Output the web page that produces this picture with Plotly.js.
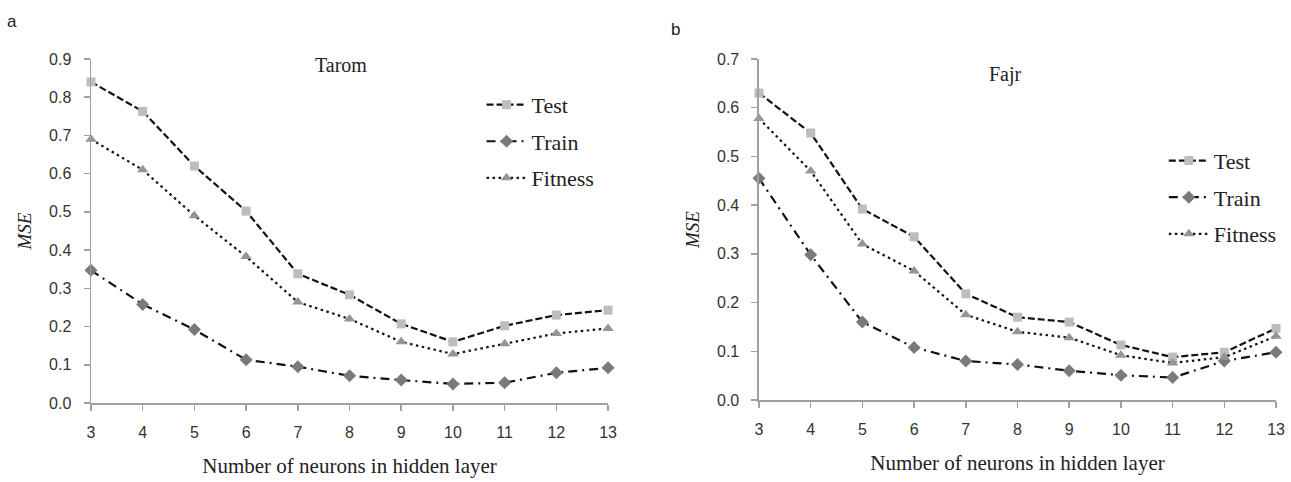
<!DOCTYPE html>
<html>
<head>
<meta charset="utf-8">
<script src="https://cdn.plot.ly/plotly-3.0.1.min.js"></script>
<style>html,body{margin:0;padding:0;background:#fff;}#chart{width:1291px;height:482px;}</style>
</head>
<body>
<div id="chart"></div>
<script>
const neurons = [3, 4, 5, 6, 7, 8, 9, 10, 11, 12, 13];
const taromTest    = [0.840, 0.763, 0.620, 0.502, 0.338, 0.283, 0.207, 0.160, 0.202, 0.230, 0.243];
const taromTrain   = [0.347, 0.258, 0.192, 0.113, 0.095, 0.071, 0.060, 0.050, 0.053, 0.079, 0.092];
const taromFitness = [0.690, 0.610, 0.490, 0.383, 0.264, 0.220, 0.160, 0.128, 0.155, 0.182, 0.195];
const fajrTest     = [0.630, 0.548, 0.392, 0.335, 0.218, 0.170, 0.160, 0.113, 0.088, 0.098, 0.147];
const fajrTrain    = [0.455, 0.298, 0.160, 0.108, 0.080, 0.073, 0.060, 0.051, 0.046, 0.080, 0.098];
const fajrFitness  = [0.578, 0.470, 0.320, 0.265, 0.175, 0.140, 0.128, 0.092, 0.076, 0.088, 0.131];
const seriesNames = ['Test', 'Train', 'Fitness'];
const panelTitles = ['Tarom', 'Fajr'];
const panelLetters = ['a', 'b'];
const xTitle = 'Number of neurons in hidden layer';
const yTitle = 'MSE';

const styles = [
  {dash: '7px,3px', symbol: 'square', color: '#bdbdbd', size: 9},
  {dash: '9px,5px,2px,5px', symbol: 'diamond', color: '#7a7a7a', size: 10},
  {dash: '2.5px,3.5px', symbol: 'triangle-up', color: '#959595', size: 10}
];

function mk(x, y, name, st, xa, ya, leg, grp) {
  return {
    x: x, y: y, name: name, type: 'scatter', mode: 'lines+markers',
    xaxis: xa, yaxis: ya, legend: leg, legendgroup: grp, cliponaxis: false,
    line: {color: '#111', width: 2.2, dash: st.dash},
    marker: {symbol: st.symbol, color: st.color, size: st.size, line: {width: 0}}
  };
}

const data = [
  mk(neurons, taromTest, seriesNames[0], styles[0], 'x', 'y', 'legend', 'a0'),
  mk(neurons, taromTrain, seriesNames[1], styles[1], 'x', 'y', 'legend', 'a1'),
  mk(neurons, taromFitness, seriesNames[2], styles[2], 'x', 'y', 'legend', 'a2'),
  mk(neurons, fajrTest, seriesNames[0], styles[0], 'x2', 'y2', 'legend2', 'b0'),
  mk(neurons, fajrTrain, seriesNames[1], styles[1], 'x2', 'y2', 'legend2', 'b1'),
  mk(neurons, fajrFitness, seriesNames[2], styles[2], 'x2', 'y2', 'legend2', 'b2')
];

const tickFont = {family: 'Liberation Sans, Arial, sans-serif', size: 16, color: '#333'};
const serif = 'Liberation Serif, Times New Roman, serif';

function xax(domain, anchor) {
  return {
    domain: domain, anchor: anchor, range: [3, 13], tickvals: neurons,
    showline: true, linecolor: '#a0a0a0', linewidth: 1.5,
    ticks: 'outside', ticklen: 6, tickcolor: '#a0a0a0', tickwidth: 1.5,
    showgrid: false, zeroline: false, tickfont: tickFont, ticklabelstandoff: 8,
    title: {text: xTitle, font: {family: serif, size: 21, color: '#222'}, standoff: 18}
  };
}
function yax(domain, anchor, max) {
  return {
    domain: domain, anchor: anchor, range: [0, max], dtick: 0.1, tickformat: '.1f',
    showline: true, linecolor: '#a0a0a0', linewidth: 1.5,
    ticks: 'outside', ticklen: 6, tickcolor: '#a0a0a0', tickwidth: 1.5,
    showgrid: false, zeroline: false, tickfont: tickFont, ticklabelstandoff: 9,
    title: {text: '<i>' + yTitle + '</i>', font: {family: serif, size: 19, color: '#222'}, standoff: 12}
  };
}

const legFont = {family: serif, size: 22, color: '#222'};
const layout = {
  width: 1291, height: 482,
  margin: {l: 0, r: 0, t: 0, b: 0},
  paper_bgcolor: '#fff', plot_bgcolor: '#fff',
  showlegend: true,
  xaxis: xax([0.0705, 0.471], 'y'),
  yaxis: yax([0.1639, 0.8776], 'x', 0.9),
  xaxis2: xax([0.5879, 0.9884], 'y2'),
  yaxis2: yax([0.1701, 0.8776], 'x2', 0.7),
  legend: {x: 0.373, y: 0.826, xanchor: 'left', yanchor: 'top', font: legFont,
           bgcolor: 'rgba(0,0,0,0)', tracegroupgap: 5, itemwidth: 40},
  legend2: {x: 0.9015, y: 0.71, xanchor: 'left', yanchor: 'top', font: legFont,
           bgcolor: 'rgba(0,0,0,0)', tracegroupgap: 5, itemwidth: 40},
  annotations: [
    {text: panelTitles[0], xref: 'paper', yref: 'paper', x: 0.2645, y: 0.865, xanchor: 'center', yanchor: 'middle', showarrow: false, font: {family: serif, size: 20, color: '#222'}},
    {text: panelTitles[1], xref: 'paper', yref: 'paper', x: 0.7785, y: 0.845, xanchor: 'center', yanchor: 'middle', showarrow: false, font: {family: serif, size: 20, color: '#222'}},
    {text: panelLetters[0], xref: 'paper', yref: 'paper', x: 0.0095, y: 0.955, xanchor: 'center', yanchor: 'middle', showarrow: false, font: {family: 'Liberation Sans, Arial, sans-serif', size: 17, color: '#222'}},
    {text: panelLetters[1], xref: 'paper', yref: 'paper', x: 0.5235, y: 0.938, xanchor: 'center', yanchor: 'middle', showarrow: false, font: {family: 'Liberation Sans, Arial, sans-serif', size: 17, color: '#222'}}
  ]
};

Plotly.newPlot('chart', data, layout, {staticPlot: true, displayModeBar: false});
</script>
</body>
</html>
